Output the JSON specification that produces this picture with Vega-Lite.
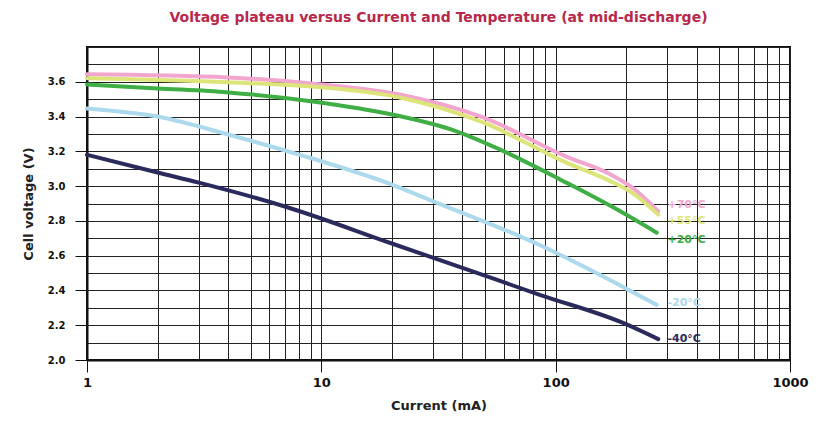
{
  "$schema": "https://vega.github.io/schema/vega-lite/v6.json",
  "autosize": "none",
  "width": 703,
  "height": 313,
  "padding": {"left": 87, "top": 47, "right": 28, "bottom": 62},
  "background": "white",
  "config": {
    "view": {"stroke": "#111", "strokeWidth": 2},
    "font": "DejaVu Sans"
  },
  "title": {
    "text": "Voltage plateau versus Current and Temperature (at mid-discharge)",
    "color": "#b8284a",
    "font": "DejaVu Sans",
    "fontSize": 14,
    "fontWeight": "bold",
    "anchor": "middle",
    "offset": 22
  },
  "datasets": {
    "curves": [
      {"temp": "+70°C", "current": 1, "voltage": 3.643},
      {"temp": "+70°C", "current": 4, "voltage": 3.625},
      {"temp": "+70°C", "current": 10, "voltage": 3.585},
      {"temp": "+70°C", "current": 21.6, "voltage": 3.527},
      {"temp": "+70°C", "current": 49, "voltage": 3.395},
      {"temp": "+70°C", "current": 111, "voltage": 3.17},
      {"temp": "+70°C", "current": 170, "voltage": 3.07},
      {"temp": "+70°C", "current": 213, "voltage": 2.99},
      {"temp": "+70°C", "current": 274, "voltage": 2.855},
      {"temp": "+55°C", "current": 1, "voltage": 3.62},
      {"temp": "+55°C", "current": 4, "voltage": 3.597},
      {"temp": "+55°C", "current": 10, "voltage": 3.568},
      {"temp": "+55°C", "current": 21.6, "voltage": 3.51},
      {"temp": "+55°C", "current": 49, "voltage": 3.366},
      {"temp": "+55°C", "current": 111, "voltage": 3.135},
      {"temp": "+55°C", "current": 170, "voltage": 3.03},
      {"temp": "+55°C", "current": 213, "voltage": 2.96},
      {"temp": "+55°C", "current": 274, "voltage": 2.836},
      {"temp": "+20°C", "current": 1, "voltage": 3.585},
      {"temp": "+20°C", "current": 2, "voltage": 3.562},
      {"temp": "+20°C", "current": 4, "voltage": 3.539},
      {"temp": "+20°C", "current": 9.2, "voltage": 3.487},
      {"temp": "+20°C", "current": 20, "voltage": 3.412},
      {"temp": "+20°C", "current": 38, "voltage": 3.314},
      {"temp": "+20°C", "current": 58, "voltage": 3.21},
      {"temp": "+20°C", "current": 111, "voltage": 3.02},
      {"temp": "+20°C", "current": 183, "voltage": 2.865},
      {"temp": "+20°C", "current": 270, "voltage": 2.732},
      {"temp": "-20°C", "current": 1, "voltage": 3.447},
      {"temp": "-20°C", "current": 2, "voltage": 3.4},
      {"temp": "-20°C", "current": 4, "voltage": 3.297},
      {"temp": "-20°C", "current": 8.1, "voltage": 3.18},
      {"temp": "-20°C", "current": 20, "voltage": 3.009},
      {"temp": "-20°C", "current": 31, "voltage": 2.905},
      {"temp": "-20°C", "current": 85, "voltage": 2.663},
      {"temp": "-20°C", "current": 194, "voltage": 2.42},
      {"temp": "-20°C", "current": 270, "voltage": 2.317},
      {"temp": "-40°C", "current": 1, "voltage": 3.18},
      {"temp": "-40°C", "current": 2, "voltage": 3.078},
      {"temp": "-40°C", "current": 3, "voltage": 3.02},
      {"temp": "-40°C", "current": 7.1, "voltage": 2.88},
      {"temp": "-40°C", "current": 20, "voltage": 2.67},
      {"temp": "-40°C", "current": 40, "voltage": 2.53},
      {"temp": "-40°C", "current": 85.5, "voltage": 2.375},
      {"temp": "-40°C", "current": 194, "voltage": 2.213},
      {"temp": "-40°C", "current": 274, "voltage": 2.12}
    ],
    "labels": [
      {"temp": "+70°C", "current": 300, "voltage": 2.89},
      {"temp": "+55°C", "current": 300, "voltage": 2.8},
      {"temp": "+20°C", "current": 300, "voltage": 2.69},
      {"temp": "-20°C", "current": 300, "voltage": 2.33},
      {"temp": "-40°C", "current": 300, "voltage": 2.12}
    ]
  },
  "encoding": {
    "x": {
      "field": "current",
      "type": "quantitative",
      "scale": {"type": "log", "domain": [1, 1000], "nice": false},
      "axis": {
        "title": "Current (mA)",
        "titleFont": "DejaVu Sans",
        "titleFontSize": 13,
        "titleFontWeight": "bold",
        "titleColor": "#222",
        "titlePadding": 10,
        "values": [1, 2, 3, 4, 5, 6, 7, 8, 9, 10, 20, 30, 40, 50, 60, 70, 80, 90, 100, 200, 300, 400, 500, 600, 700, 800, 900, 1000],
        "labelExpr": "indexof([1,10,100,1000], datum.value) >= 0 ? format(datum.value, 'd') : ''",
        "labelFont": "DejaVu Sans",
        "labelFontSize": 13,
        "labelFontWeight": "bold",
        "labelColor": "#111",
        "labelPadding": 4,
        "labelFlush": false,
        "tickSize": 12,
        "tickColor": "#111",
        "tickOpacity": {"condition": {"test": "indexof([1,10,100,1000], datum.value) >= 0", "value": 1}, "value": 0},
        "domainColor": "#111",
        "domainWidth": 2,
        "grid": true,
        "gridColor": "#222",
        "gridOpacity": 1,
        "gridWidth": 1
      }
    },
    "y": {
      "field": "voltage",
      "type": "quantitative",
      "scale": {"domain": [2.0, 3.8], "nice": false, "zero": false},
      "axis": {
        "title": "Cell voltage (V)",
        "titleFont": "DejaVu Sans",
        "titleFontSize": 13,
        "titleFontWeight": "bold",
        "titleColor": "#222",
        "titlePadding": 12,
        "values": [2.0, 2.1, 2.2, 2.3, 2.4, 2.5, 2.6, 2.7, 2.8, 2.9, 3.0, 3.1, 3.2, 3.3, 3.4, 3.5, 3.6, 3.7, 3.8],
        "labelExpr": "(round(datum.value * 10) % 2 == 0 && datum.value < 3.7) ? format(datum.value, '.1f') : ''",
        "labelFont": "DejaVu Sans",
        "labelFontSize": 10,
        "labelFontWeight": "bold",
        "labelColor": "#111",
        "labelPadding": 10,
        "tickSize": 12,
        "tickColor": "#111",
        "tickOpacity": {"condition": {"test": "round(datum.value * 10) % 2 == 0 && datum.value < 3.7", "value": 1}, "value": 0},
        "domainColor": "#111",
        "domainWidth": 2,
        "grid": true,
        "gridColor": "#222",
        "gridOpacity": 1,
        "gridWidth": 1
      }
    },
    "color": {
      "field": "temp",
      "type": "nominal",
      "scale": {
        "domain": ["+70°C", "+55°C", "+20°C", "-20°C", "-40°C"],
        "range": ["#f2a6cf", "#dde47a", "#3fae45", "#acd9ec", "#2b2a5c"]
      },
      "legend": null
    }
  },
  "layer": [
    {
      "data": {"name": "curves"},
      "mark": {"type": "line", "strokeWidth": 4, "interpolate": "monotone", "strokeCap": "round"},
      "encoding": {"order": {"field": "current", "type": "quantitative"}}
    },
    {
      "data": {"name": "labels"},
      "mark": {"type": "text", "align": "left", "baseline": "middle", "font": "DejaVu Sans", "fontSize": 11, "fontWeight": "bold"},
      "encoding": {"text": {"field": "temp"}}
    }
  ]
}
